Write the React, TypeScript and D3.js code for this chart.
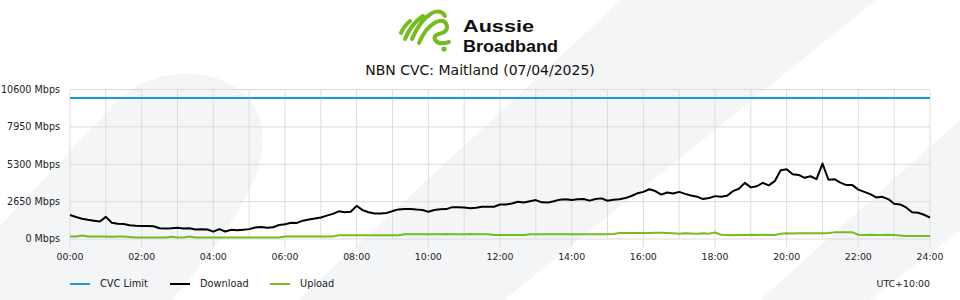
import React from "react";
import { scaleLinear, line } from "d3";

// chart data, 10 minute samples from 00:00 to 24:00
const downloadMbps = [
  1700, 1560, 1440, 1360, 1300, 1240, 1570, 1150, 1080, 1060,
  980, 940, 930, 920, 900, 760, 750, 760, 800, 740,
  760, 680, 690, 670, 520, 700, 530, 660, 620, 660,
  700, 820, 850, 800, 830, 990, 1040, 1150, 1140, 1300,
  1380, 1450, 1530, 1660, 1780, 1960, 1900, 1930, 2350, 2050,
  1900, 1810, 1800, 1840, 1980, 2100, 2120, 2130, 2090, 2060,
  1930, 2060, 2110, 2120, 2260, 2250, 2230, 2180, 2210, 2290,
  2280, 2290, 2450, 2440, 2520, 2640, 2590, 2680, 2760, 2600,
  2580, 2680, 2790, 2810, 2760, 2820, 2830, 2720, 2830, 2880,
  2710, 2780, 2820, 2900, 3050, 3240, 3340, 3530, 3400, 3150,
  3300, 3230, 3340, 3200, 3080, 3000, 2830, 2900, 3040, 3000,
  3060, 3390, 3560, 3980, 3660, 3740, 3980, 3800, 4100, 4880,
  4950, 4590, 4540, 4340, 4450, 4240, 5350, 4200, 4240, 4000,
  3820, 3820, 3500, 3340, 3180, 2950, 2990, 2830, 2500, 2450,
  2240, 1900, 1860, 1720, 1510,
];

const uploadMbps = [
  170, 170, 250, 170, 170, 170, 170, 160, 170, 170,
  150, 100, 100, 100, 100, 100, 100, 160, 100, 100,
  170, 100, 100, 100, 100, 100, 100, 100, 100, 100,
  100, 100, 100, 100, 100, 100, 170, 170, 170, 170,
  170, 170, 170, 170, 180, 260, 260, 260, 260, 260,
  260, 260, 260, 260, 260, 260, 330, 330, 330, 330,
  330, 330, 330, 360, 330, 330, 330, 360, 330, 330,
  330, 280, 280, 280, 280, 280, 280, 330, 330, 330,
  330, 330, 330, 330, 330, 330, 330, 330, 330, 330,
  330, 360, 420, 420, 420, 420, 420, 430, 450, 440,
  420, 400, 380, 400, 390, 380, 400, 380, 460, 300,
  290, 270, 290, 280, 300, 280, 300, 290, 290, 380,
  400, 390, 400, 410, 400, 410, 400, 420, 470, 480,
  470, 470, 300, 290, 300, 280, 290, 300, 280, 240,
  220, 210, 220, 210, 210,
];

const cvcLimitMbps = 10000;
const yTicks = [0, 2650, 5300, 7950, 10600];
const xTickHours = [0, 2, 4, 6, 8, 10, 12, 14, 16, 18, 20, 22, 24];
const sampleMinutes = 10;

const legendItems = [
  { label: "CVC Limit", color: "#1b9ad6" },
  { label: "Download", color: "#000000" },
  { label: "Upload", color: "#76bb22" },
];

const font = "'DejaVu Sans', Verdana, sans-serif";

export default function App() {
  const x = scaleLinear().domain([0, 24]).range([70, 930]);
  const y = scaleLinear().domain([0, 10600]).range([239, 89.5]);

  const toPath = line<number>()
    .x((d, i) => x((i * sampleMinutes) / 60))
    .y((d) => y(d));

  const hours = Array.from({ length: 25 }, (_, i) => i);
  const pad = (h: number) => String(h).padStart(2, "0") + ":00";

  return (
    <svg
      width={960}
      height={300}
      style={{ position: "absolute", left: 0, top: 0, display: "block", background: "#fff" }}
    >
      {/* decorative background shapes */}
      <g fill="#f4f5f7">
        <path d="M0,226 L118,100 C160,58 252,66 262,128 C268,168 240,220 172,300 L0,300 Z" />
        <path d="M621,0 L876,0 L504,300 L298,300 Z" />
        <path d="M960,120 L960,230 L870,300 L760,300 Z" />
      </g>

      {/* logo */}
      <g stroke="#76bb22" strokeWidth={4} fill="none" strokeLinecap="round">
        <path d="M401,33 Q404,26 410,21" />
        <path d="M405,39 Q411,24 423,16" />
        <path d="M412,39 Q420,20 432,13 Q441,9 445,16" />
        <path d="M419,43 Q425,28 436,22 Q445,18 447,26 Q448,32 439,34 Q432,36 436,41 Q440,45 449,42" />
      </g>
      <circle cx={444} cy={49} r={2.6} fill="#76bb22" />
      <g fontFamily="'Liberation Sans', Arial, sans-serif" fontWeight={700} fontSize={17} fill="#111">
        <text x={463} y={31.5} textLength={71} lengthAdjust="spacingAndGlyphs">Aussie</text>
        <text x={463} y={51.5} textLength={95} lengthAdjust="spacingAndGlyphs">Broadband</text>
      </g>

      <text x={480} y={75} textAnchor="middle" fontFamily={font} fontSize={14} fill="#111">
        NBN CVC: Maitland (07/04/2025)
      </text>

      {/* grid */}
      <g stroke="#dcdcdc" strokeWidth={1}>
        {yTicks.map((t) => (
          <line key={"h" + t} x1={70} x2={930} y1={y(t)} y2={y(t)} />
        ))}
        {hours.map((h) => (
          <line key={"v" + h} x1={x(h)} x2={x(h)} y1={y(10600)} y2={xTickHours.includes(h) ? 247 : y(0)} />
        ))}
      </g>

      {/* y labels */}
      <g fontFamily={font} fontSize={9.6} fill="#222" textAnchor="end">
        {yTicks.map((t) => (
          <text key={t} x={60} y={y(t)} dy="0.35em">{t} Mbps</text>
        ))}
      </g>

      {/* x labels */}
      <g fontFamily={font} fontSize={9.4} fill="#222" textAnchor="middle">
        {xTickHours.map((h) => (
          <text key={h} x={x(h)} y={259.5}>{pad(h)}</text>
        ))}
      </g>

      {/* series */}
      <line x1={x(0)} x2={x(24)} y1={y(cvcLimitMbps)} y2={y(cvcLimitMbps)} stroke="#1b9ad6" strokeWidth={2} />
      <path d={toPath(uploadMbps) ?? ""} fill="none" stroke="#76bb22" strokeWidth={2} strokeLinejoin="round" />
      <path d={toPath(downloadMbps) ?? ""} fill="none" stroke="#000" strokeWidth={2} strokeLinejoin="round" />

      {/* legend */}
      <g fontFamily={font} fontSize={9.8} fill="#222">
        {legendItems.map((item, i) => (
          <g key={item.label} transform={`translate(${70 + i * 100},284)`}>
            <line x1={0} x2={20} y1={0} y2={0} stroke={item.color} strokeWidth={2} />
            <text x={30} y={0} dy="0.35em">{item.label}</text>
          </g>
        ))}
      </g>
      <text x={930} y={284} dy="0.35em" textAnchor="end" fontFamily={font} fontSize={9.4} fill="#222">
        UTC+10:00
      </text>
    </svg>
  );
}
